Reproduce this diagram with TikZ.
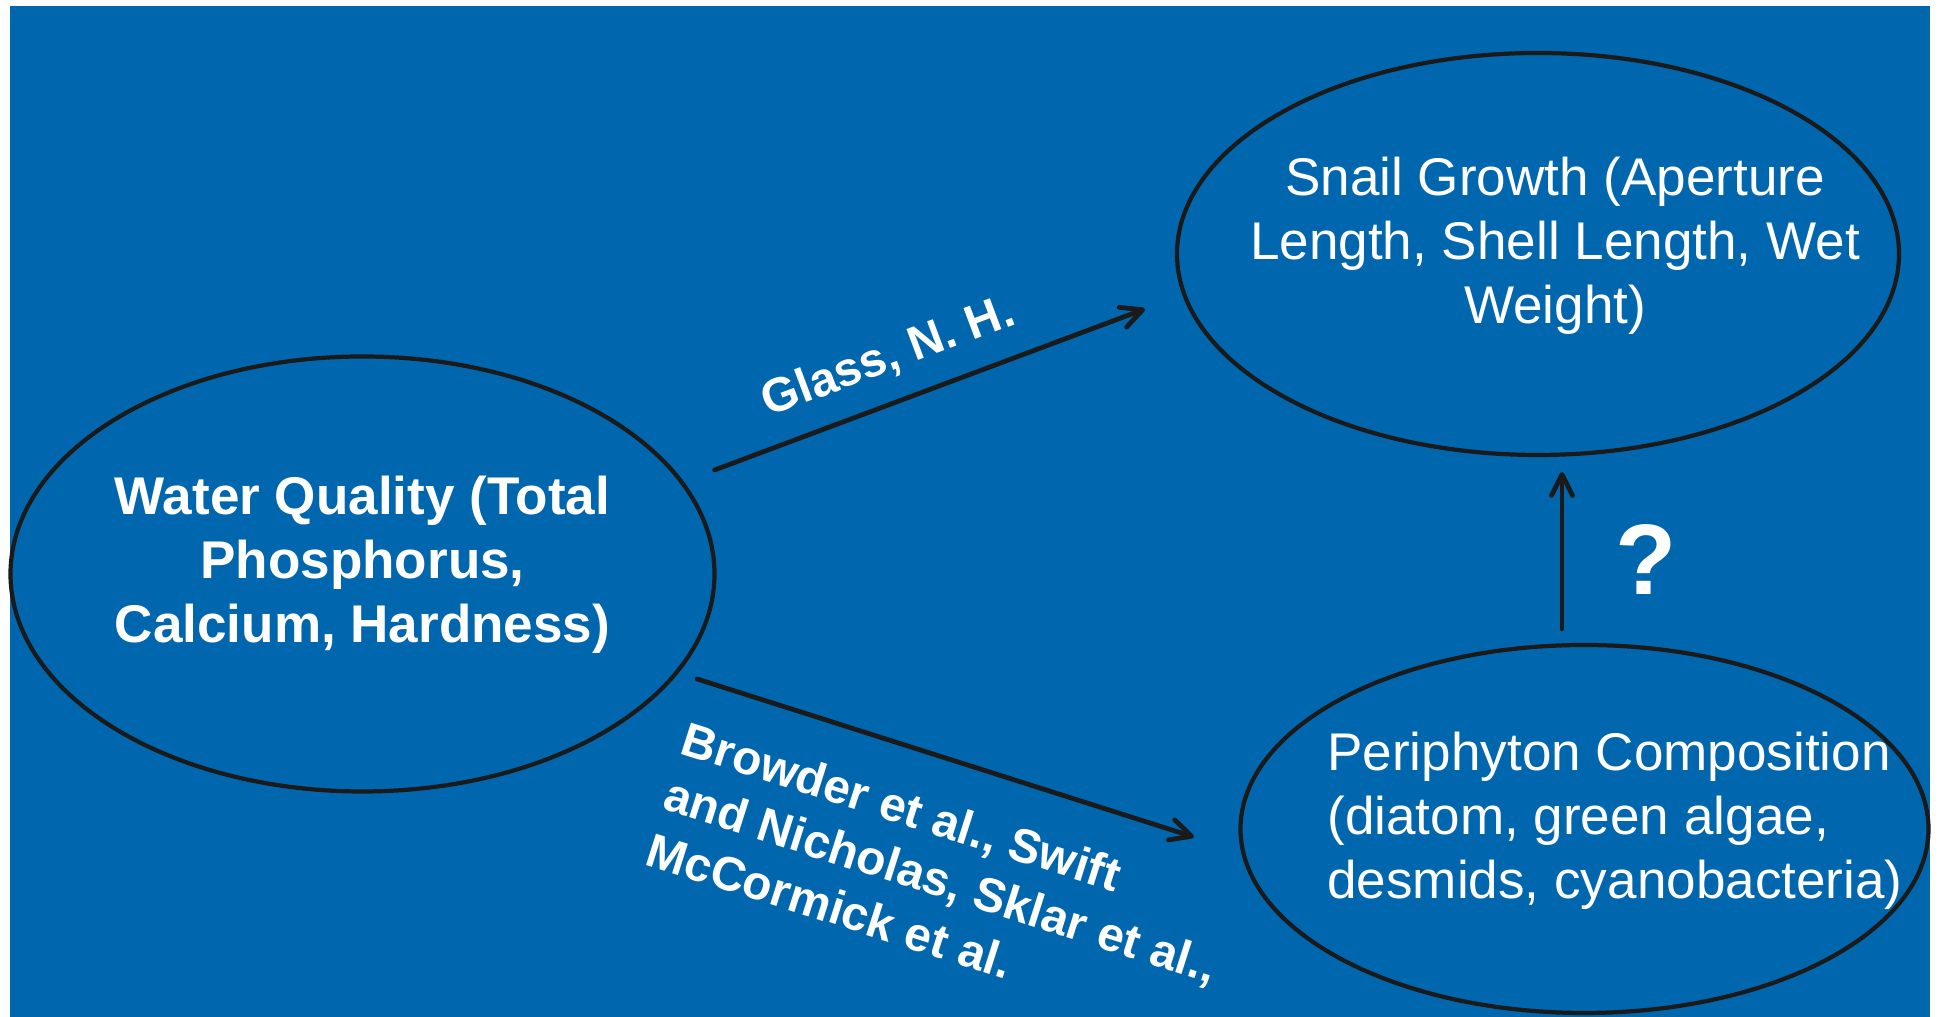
\documentclass[tikz,border=0pt]{standalone}
\usepackage{fontspec}
\setmainfont{Liberation Sans}
\usepackage{tikz}
\usetikzlibrary{arrows.meta,shapes.geometric,positioning,calc}
\definecolor{slideblue}{RGB}{0,103,174}
\definecolor{inkblack}{RGB}{26,26,26}

\begin{document}
\begin{tikzpicture}[
    oval/.style={ellipse, draw=inkblack, line width=1.2pt, inner sep=0pt},
    big/.style={text=white, align=center, inner sep=0pt, font=\fontsize{15.1}{18.2}\selectfont},
    bigbold/.style={big, font=\bfseries\fontsize{15.1}{18.2}\selectfont},
    cite/.style={text=white, align=left, inner sep=0pt, font=\bfseries\fontsize{13.6}{16.5}\selectfont},
    link/.style={draw=inkblack, line width=1.35pt, line cap=round, -{Straight Barb[length=6pt,width=6pt,round]}}]

    \useasboundingbox (0,0) rectangle (19.39,10.17);
    \fill[slideblue] (0.10,0) rectangle (19.30,10.11);

    \node[oval, minimum width=7.04cm, minimum height=4.35cm] (WQ) at (3.625,4.43) {};
    \node[oval, minimum width=7.22cm, minimum height=4.02cm] (SG) at (15.38,7.63) {};
    \node[oval, minimum width=6.88cm, minimum height=3.68cm] (PC) at (15.845,1.88) {};
    \node[bigbold] at ($(WQ)+(0,0.095)$) (WQtext) {Water Quality (Total\\Phosphorus,\\Calcium, Hardness)};
    \node[big] at ($(SG)+(0.17,0.08)$) (SGtext) {Snail Growth (Aperture\\Length, Shell Length, Wet\\Weight)};
    \node[big, align=left] at ($(PC)+(0.305,0.08)$) (PCtext) {Periphyton Composition\\(diatom, green algae,\\desmids, cyanobacteria)};

    \coordinate (g1) at ($(WQ.east)+(-0.02,1.04)$);
    \coordinate (g2) at ($(SG.west)+(-0.30,-0.55)$);
    \coordinate (b1) at ($(WQ.east)+(-0.195,-1.05)$);
    \coordinate (b2) at ($(PC.west)+(-0.445,-0.08)$);
    \coordinate (q1) at ($(PC.north)+(-0.225,0.14)$);
    \coordinate (q2) at ($(q1 |- SG.south)+(0,-0.15)$);
    \draw[link] (g1) -- (g2) node[cite, sloped, pos=0.44, above=2.1mm] (glass) {Glass, N. H.};
    \draw[link] (b1) -- (b2) node[cite, sloped, pos=0.563, below=3.95mm] (browder) {Browder et al., Swift\\and Nicholas, Sklar et al.,\\McCormick et al.};
    \draw[link] (q1) -- (q2);
    \node[text=white, inner sep=0pt, font=\bfseries\fontsize{28.5}{34}\selectfont] (Q) at ($(q1)!0.5!(q2)+(0.84,-0.095)$) {?};
\end{tikzpicture}
\end{document}
